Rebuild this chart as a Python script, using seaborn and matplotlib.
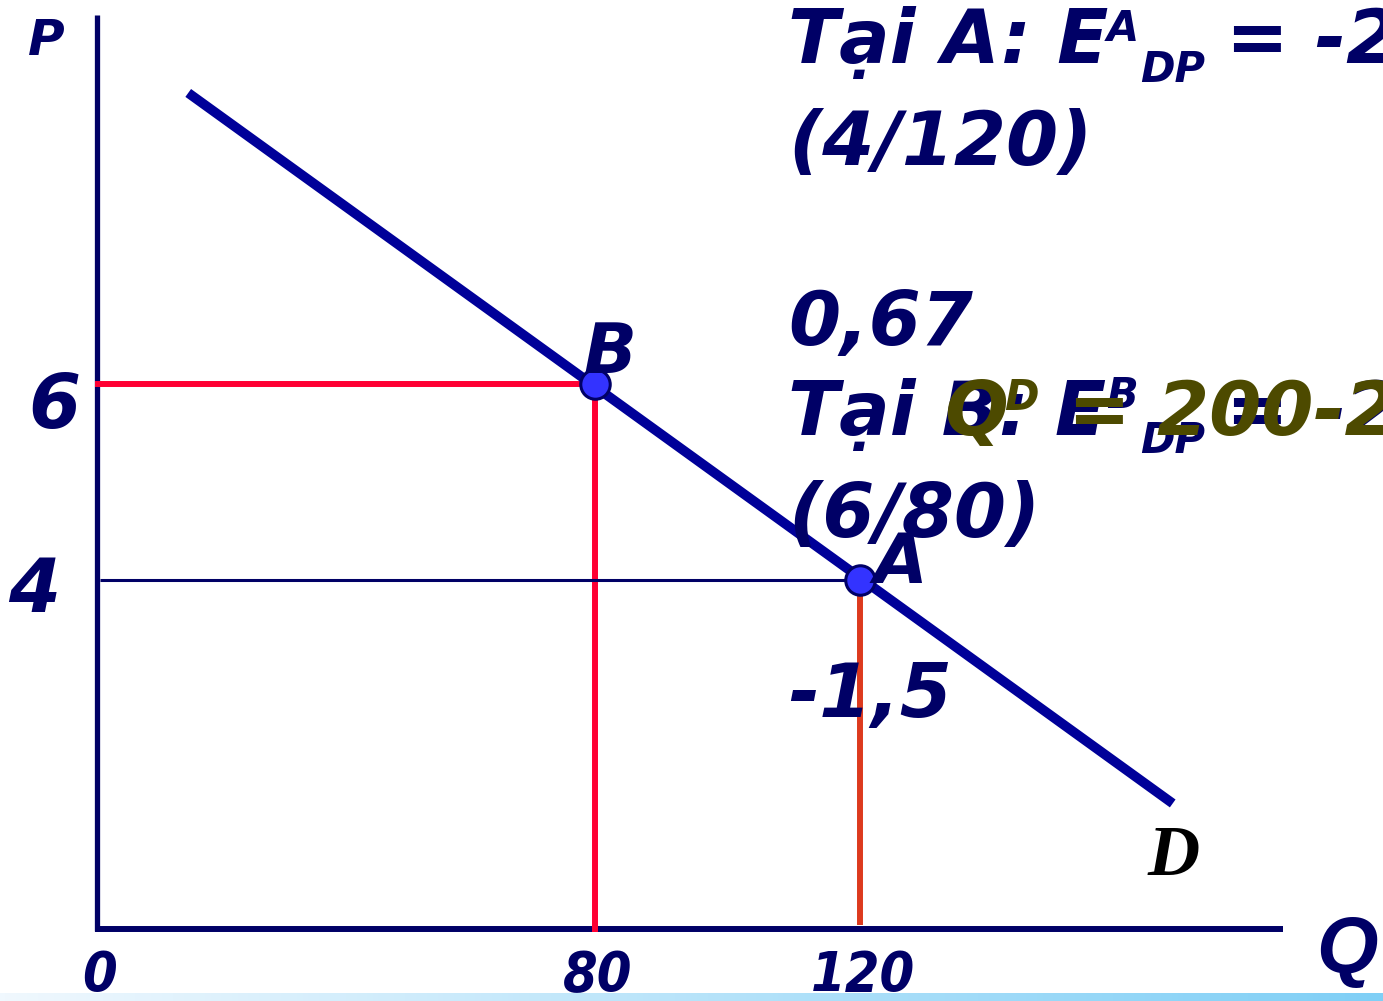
import numpy as np
import pandas as pd
import matplotlib
matplotlib.use("Agg")
import matplotlib.pyplot as plt
import seaborn as sns

# ---------------- data ----------------
q_demand = [18.6, 167.2]          # demand line ends (Q)
p_demand = [8.97, 1.72]           # demand line ends (P)
q_points = [80, 120]              # B, A
p_points = [6, 4]
point_labels = ["B", "A"]
x_tick_values = [0, 80, 120]
x_tick_labels = ["0", "80", "120"]
y_tick_values = [6, 4]
y_tick_labels = ["6", "4"]

# ---------------- figure ----------------
W, H = 1383, 1001
sns.set_style("white")
plt.rcParams["font.family"] = ["DejaVu Sans"]
fig = plt.figure(figsize=(W / 100, H / 100), dpi=100)
ax = fig.add_axes([0, 0, 1, 1])
ax.set_axis_off()

# pixel <-> data mapping (drawing is not to scale in the original)
X0, XS = 65.0, 6.625      # pixel of Q=0, px per unit Q
Y4, YS = 580.0, 98.0      # pixel of P=4, px per unit P
def qx(px): return (px - X0) / XS
def py(px): return 4 + (Y4 - px) / YS
ax.set_xlim(qx(0), qx(W))
ax.set_ylim(py(H), py(0))

NAVY = "#000066"
DBLUE = "#000099"
RED = "#ff0033"
ORANGE = "#dd3a1e"
OLIVE = "#4d4a00"

AXIS_PX = 97   # y axis position in the drawing

def line(qs, ps, color, lw, z=2):
    df = pd.DataFrame({"Q": qs, "P": ps})
    sns.lineplot(data=df, x="Q", y="P", ax=ax, color=color, linewidth=lw,
                 sort=False, estimator=None, zorder=z, solid_capstyle="butt")

# axes lines
line([qx(AXIS_PX), qx(AXIS_PX)], [py(15), py(931)], NAVY, 3.8)
line([qx(95), qx(1283)], [py(929), py(929)], NAVY, 4.3)

# guide lines
line([qx(95), q_points[0]], [p_points[0], p_points[0]], RED, 4.3)
line([q_points[0], q_points[0]], [p_points[0], py(932)], RED, 4.3)
line([qx(100), q_points[1]], [p_points[1], p_points[1]], NAVY, 2.2)
line([q_points[1], q_points[1]], [p_points[1], py(925)], ORANGE, 4.3)

# demand curve
line(q_demand, p_demand, DBLUE, 7.0, z=3)

# points
sns.scatterplot(x=q_points, y=p_points, ax=ax, s=450, color="#3333ff",
                edgecolor=NAVY, linewidth=2.2, zorder=4, legend=False)

# ---------------- text ----------------
def ftxt(x, y, s, size, color=NAVY, family="DejaVu Sans", style="oblique",
         weight="bold", stretch="normal", ha="left", z=6):
    fig.text(x / W, 1 - y / H, s, fontsize=size, color=color, family=family,
             style=style, weight=weight, stretch=stretch, ha=ha, va="baseline",
             zorder=z)

# axis names
ftxt(28, 55, "P", 36)
ftxt(1316, 972, "Q", 57, family="Liberation Sans", style="italic")
ftxt(1148, 875, "D", 52, color="black", family="Liberation Serif", style="italic")

# tick labels
for v, lab in zip(x_tick_values, x_tick_labels):
    xp = X0 + XS * v if v > 0 else AXIS_PX
    ftxt(xp + 3, 991, lab, 40, stretch="condensed", ha="center")
ftxt(28, 428, y_tick_labels[0], 54)
ftxt(8, 612, y_tick_labels[1], 54)

# point labels
ftxt(584, 373, point_labels[0], 50)
ftxt(874, 583, point_labels[1], 50)

# annotation block
ftxt(788, 63, "Tại A: E", 54)
ftxt(1107, 41, "A", 30)
ftxt(1140, 82, "DP", 30)
ftxt(1226, 63, "= -20", 54)
ftxt(788, 165, "(4/120)", 54)
ftxt(788, 345, "0,67", 54)
ftxt(788, 435, "Tại B: E", 54)
ftxt(1106, 408, "B", 30)
ftxt(1140, 453, "DP", 30)
ftxt(1226, 435, "= -20", 54)
ftxt(788, 537, "(6/80)", 54)
ftxt(788, 717, "-1,5", 54)

# olive demand function overlapping
ftxt(944, 435, "Q", 54, color=OLIVE, z=7)
ftxt(1004, 410, "D", 30, color=OLIVE, z=7)
ftxt(1068, 435, "= 200-20P", 54, color=OLIVE, z=7)

# bottom gradient strip
bax = fig.add_axes([0, 0, 1, 8 / H])
bax.set_axis_off()
grad = np.linspace(0, 1, 256).reshape(1, -1)
cmap = matplotlib.colors.LinearSegmentedColormap.from_list("strip", ["#f0f8fe", "#7fcff6"])
bax.imshow(grad, aspect="auto", cmap=cmap, extent=[0, 1, 0, 1])

fig.savefig("out.png", dpi=100)
